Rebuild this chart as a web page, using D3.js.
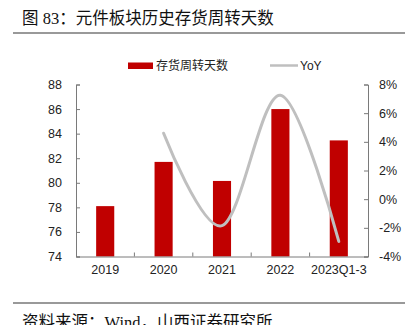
<!DOCTYPE html>
<html>
<head>
<meta charset="utf-8">
<script src="https://cdn.jsdelivr.net/npm/d3@7/dist/d3.min.js"></script>
<style>
  html, body { margin: 0; padding: 0; background: #fff; }
  svg { display: block; }
</style>
</head>
<body>
<svg id="chart" width="414" height="325"></svg>
<script>
// Inventory turnover days for the components sector, with YoY change
const categories = ["2019", "2020", "2021", "2022", "2023Q1-3"];
const turnoverDays = [78.1, 81.7, 80.15, 86.0, 83.45];
const yoyPct = [null, 4.6, -1.85, 7.25, -2.95];
const leftTicks = [74, 76, 78, 80, 82, 84, 86, 88];
const rightTicks = [-4, -2, 0, 2, 4, 6, 8];

const svg = d3.select("#chart");
const W = 414;

const margin = { left: 76, right: 368, top: 84.5, bottom: 256.5 };

const x = d3.scaleBand()
  .domain(categories)
  .range([margin.left, margin.right])
  .paddingInner(0.69)
  .paddingOuter(0.345);

const yL = d3.scaleLinear().domain([74, 88]).range([margin.bottom, margin.top]);
const yR = d3.scaleLinear().domain([-4, 8]).range([margin.bottom, margin.top]);

const axisColor = "#7a7a7a";
const labelFont = "'Liberation Sans', Arial, sans-serif";

// Title and rules
svg.append("text")
  .attr("x", 22).attr("y", 24)
  .attr("font-family", "'Liberation Serif', 'Noto Sans CJK SC', serif")
  .attr("font-size", 16.5)
  .attr("fill", "#111")
  .text("图 83：元件板块历史存货周转天数");

svg.append("line")
  .attr("x1", 13).attr("x2", W - 9).attr("y1", 33).attr("y2", 33)
  .attr("stroke", "#777").attr("stroke-width", 1.5);

svg.append("line")
  .attr("x1", 13).attr("x2", W - 9).attr("y1", 303).attr("y2", 303)
  .attr("stroke", "#777").attr("stroke-width", 1.5);

svg.append("text")
  .attr("x", 22).attr("y", 328)
  .attr("font-family", "'Liberation Serif', 'Noto Sans CJK SC', serif")
  .attr("font-size", 16.5)
  .attr("fill", "#111")
  .text("资料来源：Wind，山西证券研究所");

// Bars
svg.append("g").selectAll("rect")
  .data(categories)
  .join("rect")
  .attr("x", d => x(d))
  .attr("width", x.bandwidth())
  .attr("y", (d, i) => yL(turnoverDays[i]))
  .attr("height", (d, i) => yL(74) - yL(turnoverDays[i]))
  .attr("fill", "#C00000");

// Left axis
const gL = svg.append("g").attr("transform", `translate(${margin.left},0)`)
  .call(d3.axisLeft(yL).tickValues(leftTicks).tickSize(-4).tickPadding(14).tickFormat(d3.format("d")));

// Right axis
const gR = svg.append("g").attr("transform", `translate(${margin.right},0)`)
  .call(d3.axisRight(yR).tickValues(rightTicks).tickSize(-4).tickPadding(11).tickFormat(d => d + "%"));

// Bottom axis with ticks between categories
const gB = svg.append("g").attr("transform", `translate(0,${margin.bottom})`)
  .call(d3.axisBottom(x).tickSize(0).tickPadding(9));

const step = x.step();
svg.append("g").selectAll("line")
  .data(categories.slice(1))
  .join("line")
  .attr("x1", d => x(d) - x.paddingInner() * step / 2)
  .attr("x2", d => x(d) - x.paddingInner() * step / 2)
  .attr("y1", margin.bottom).attr("y2", margin.bottom - 4)
  .attr("stroke", axisColor);

[gL, gR, gB].forEach(g => {
  g.selectAll(".domain").attr("stroke", axisColor);
  g.selectAll(".tick line").attr("stroke", axisColor);
  g.selectAll("text")
    .attr("font-family", labelFont)
    .attr("font-size", 12.5)
    .attr("fill", "#222");
});

// YoY smoothed line
const line = d3.line()
  .defined(d => d[1] !== null)
  .x(d => x(d[0]) + x.bandwidth() / 2)
  .y(d => yR(d[1]))
  .curve(d3.curveCardinal.tension(0));

svg.append("path")
  .datum(categories.map((c, i) => [c, yoyPct[i]]))
  .attr("d", line)
  .attr("fill", "none")
  .attr("stroke", "#BFBFBF")
  .attr("stroke-width", 3)
  .attr("stroke-linecap", "round");

// Legend
const lg = svg.append("g");
lg.append("rect")
  .attr("x", 128).attr("y", 62.5).attr("width", 25).attr("height", 6.5)
  .attr("fill", "#C00000");
lg.append("text")
  .attr("x", 156).attr("y", 70)
  .attr("font-family", "'Noto Sans CJK SC', sans-serif")
  .attr("font-size", 12)
  .attr("fill", "#222")
  .text("存货周转天数");
lg.append("line")
  .attr("x1", 270).attr("x2", 298).attr("y1", 65.5).attr("y2", 65.5)
  .attr("stroke", "#BFBFBF").attr("stroke-width", 2.5);
lg.append("text")
  .attr("x", 300).attr("y", 70)
  .attr("font-family", labelFont)
  .attr("font-size", 12)
  .attr("fill", "#222")
  .text("YoY");
</script>
</body>
</html>
